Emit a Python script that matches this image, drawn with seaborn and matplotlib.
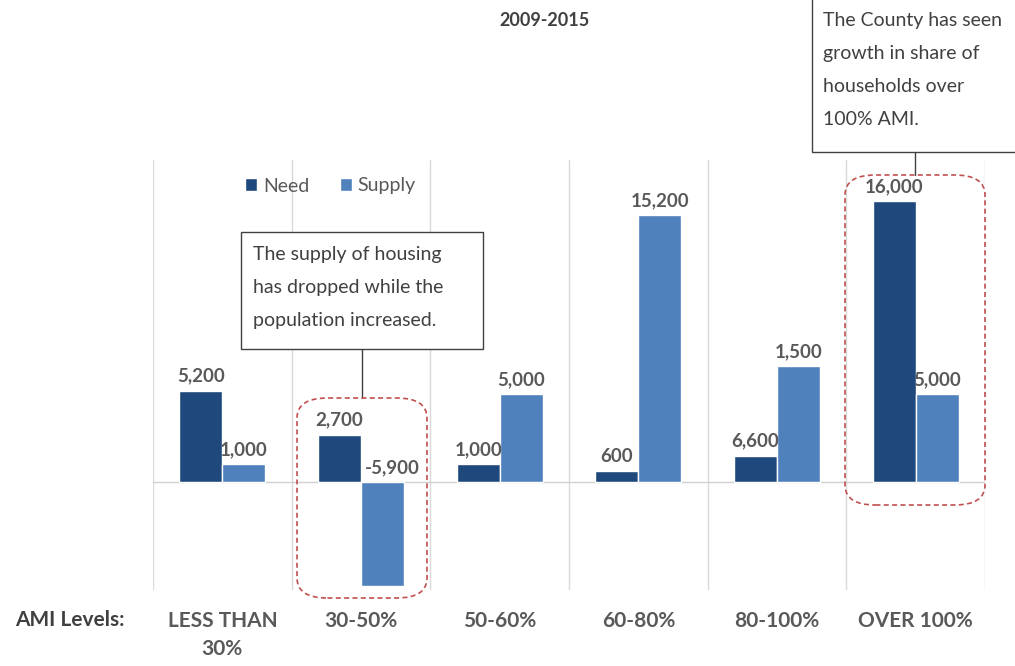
import seaborn as sns
import pandas as pd
import matplotlib.pyplot as plt
from matplotlib.patches import Rectangle, FancyBboxPatch
from matplotlib.lines import Line2D

levels = ["LESS THAN\n30%", "30-50%", "50-60%", "60-80%", "80-100%", "OVER 100%"]
need = [5200, 2700, 1000, 600, 1500, 16000]
supply = [1000, -5900, 5000, 15200, 6600, 5000]
# labels as printed on the chart (80-100% labels sit swapped in the original)
need_labels = ["5,200", "2,700", "1,000", "600", "6,600", "16,000"]
supply_labels = ["1,000", "-5,900", "5,000", "15,200", "1,500", "5,000"]

df = pd.DataFrame({
    "level": levels * 2,
    "value": need + supply,
    "series": ["Need"] * len(levels) + ["Supply"] * len(levels),
})

sns.set_theme(style="white")
plt.rcParams['font.family'] = ['Lato', 'DejaVu Sans']

W, H = 1015, 666
fig = plt.figure(figsize=(W / 100, H / 100), dpi=100)

def fx(x):
    return x / W

def fy(y):
    return 1 - y / H

ax = fig.add_axes([fx(153), fy(590), fx(985) - fx(153), fy(160) - fy(590)])
sns.barplot(data=df, x="level", y="value", hue="series", order=levels,
            palette=["#1F497D", "#4F81BD"], saturation=1, width=0.62,
            ax=ax, zorder=3)
ax.set_xlim(-0.5, 5.5)
ax.set_ylim(-6150, 18340)
sns.despine(ax=ax, left=True, bottom=True, top=True, right=True)
ax.set_yticks([])
ax.set_xlabel("")
ax.set_ylabel("")
for b in range(len(levels) + 1):
    ax.axvline(b - 0.5, color="#d9d9d9", lw=1, zorder=1)
ax.axhline(0, color="#d0d0d0", lw=1, zorder=2)

ax.tick_params(axis="x", length=0, pad=15)
ax.set_xticks(range(len(levels)))
ax.set_xticklabels(levels, fontsize=15, fontweight="bold", color="#595959",
                   linespacing=1.5, va="top")

for cont, labs in zip(ax.containers, [need_labels, supply_labels]):
    for bar, lab in zip(cont, labs):
        x = bar.get_x() + bar.get_width() / 2
        h = bar.get_height()
        if h < 0:
            x += 0.07  # keep the minus sign clear of the neighbouring bar
        ax.text(x, max(h, 0) + 350, lab, ha="center", va="bottom", fontsize=13.5,
                fontweight="bold", color="#595959", zorder=7)

leg = ax.legend(loc="upper left", bbox_to_anchor=(0.09, 1.0), ncol=2, frameon=False,
                fontsize=14, handlelength=0.6, handleheight=0.6, handletextpad=0.3,
                columnspacing=1.6)
for t in leg.get_texts():
    t.set_color("#595959")

fig.text(fx(545), fy(20), "2009-2015", ha="center", va="center", fontsize=13,
         fontweight="bold", color="#404040")
fig.text(fx(70), fy(620), "AMI Levels:", ha="center", va="center", fontsize=15,
         fontweight="bold", color="#404040")

# callout 1
fig.patches.append(Rectangle((fx(241), fy(349)), fx(483) - fx(241), fy(232) - fy(349),
                             transform=fig.transFigure, fill=True, fc="white",
                             ec="#404040", lw=1, zorder=5))
fig.text(fx(253), fy(246), "The supply of housing\nhas dropped while the\npopulation increased.",
         ha="left", va="top", fontsize=14, color="#404040", linespacing=2.15, zorder=6)
fig.lines.append(Line2D([fx(362), fx(362)], [fy(349), fy(398)], transform=fig.transFigure,
                        color="#404040", lw=1))
fig.patches.append(FancyBboxPatch((fx(297), fy(598)), fx(427) - fx(297), fy(398) - fy(598),
                                  boxstyle="round,pad=0,rounding_size=0.03",
                                  transform=fig.transFigure, fill=False, ec="#C0504D",
                                  lw=1.2, ls=(0, (3, 2)), zorder=5))

# callout 2
fig.patches.append(Rectangle((fx(812), fy(152)), fx(1020) - fx(812), fy(-5) - fy(152),
                             transform=fig.transFigure, fill=True, fc="white",
                             ec="#404040", lw=1, zorder=5))
fig.text(fx(823), fy(12), "The County has seen\ngrowth in share of\nhouseholds over\n100% AMI.",
         ha="left", va="top", fontsize=14, color="#404040", linespacing=2.15, zorder=6)
fig.lines.append(Line2D([fx(915), fx(915)], [fy(152), fy(175)], transform=fig.transFigure,
                        color="#404040", lw=1))
fig.patches.append(FancyBboxPatch((fx(845), fy(505)), fx(985) - fx(845), fy(175) - fy(505),
                                  boxstyle="round,pad=0,rounding_size=0.03",
                                  transform=fig.transFigure, fill=False, ec="#C0504D",
                                  lw=1.2, ls=(0, (3, 2)), zorder=5))

plt.savefig("out.png", dpi=100)
